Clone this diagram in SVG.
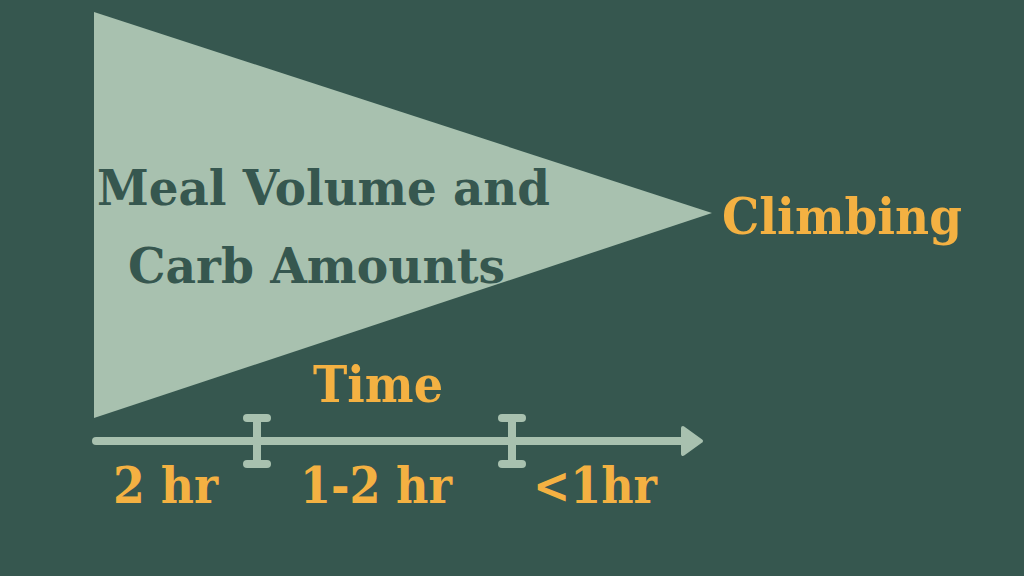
<svg xmlns="http://www.w3.org/2000/svg" width="1024" height="576" viewBox="0 0 1024 576">
<style>
.t{font-family:"DejaVu Serif","Liberation Serif",serif;font-weight:bold;}
.o{fill:#F4B142;}
.d{fill:#36574F;}
.ax{stroke:#A8C1AF;stroke-width:8;stroke-linecap:round;fill:none;}
</style>
<rect width="1024" height="576" fill="#36574F"/>
<g id="funnel">
<polygon points="94,12 94,418 712,213" fill="#A8C1AF"/>
<text class="t d" x="97" y="205" font-size="48" textLength="453" lengthAdjust="spacingAndGlyphs">Meal Volume and</text>
<text class="t d" x="128" y="283" font-size="48" textLength="377" lengthAdjust="spacingAndGlyphs">Carb Amounts</text>
</g>
<g id="climbing">
<text class="t o" x="722" y="234" font-size="50" textLength="240" lengthAdjust="spacingAndGlyphs">Climbing</text>
</g>
<g id="time">
<text class="t o" x="313" y="402" font-size="50" textLength="130" lengthAdjust="spacingAndGlyphs">Time</text>
</g>
<g id="connectors">
<line class="ax" x1="96" y1="441" x2="690" y2="441"/>
<polygon points="683,428 701,441 683,454" fill="#A8C1AF" stroke="#A8C1AF" stroke-width="4" stroke-linejoin="round"/>
<line class="ax" x1="257" y1="418" x2="257" y2="464"/>
<line class="ax" x1="247" y1="418" x2="267" y2="418"/>
<line class="ax" x1="247" y1="464" x2="267" y2="464"/>
<line class="ax" x1="512" y1="418" x2="512" y2="464"/>
<line class="ax" x1="502" y1="418" x2="522" y2="418"/>
<line class="ax" x1="502" y1="464" x2="522" y2="464"/>
</g>
<g id="labels">
<text class="t o" x="113" y="503" font-size="50" textLength="105" lengthAdjust="spacingAndGlyphs">2 hr</text>
<text class="t o" x="300" y="503" font-size="50" textLength="152" lengthAdjust="spacingAndGlyphs">1-2 hr</text>
<text class="t o" x="533" y="503" font-size="50" textLength="124" lengthAdjust="spacingAndGlyphs">&lt;1hr</text>
</g>
</svg>
